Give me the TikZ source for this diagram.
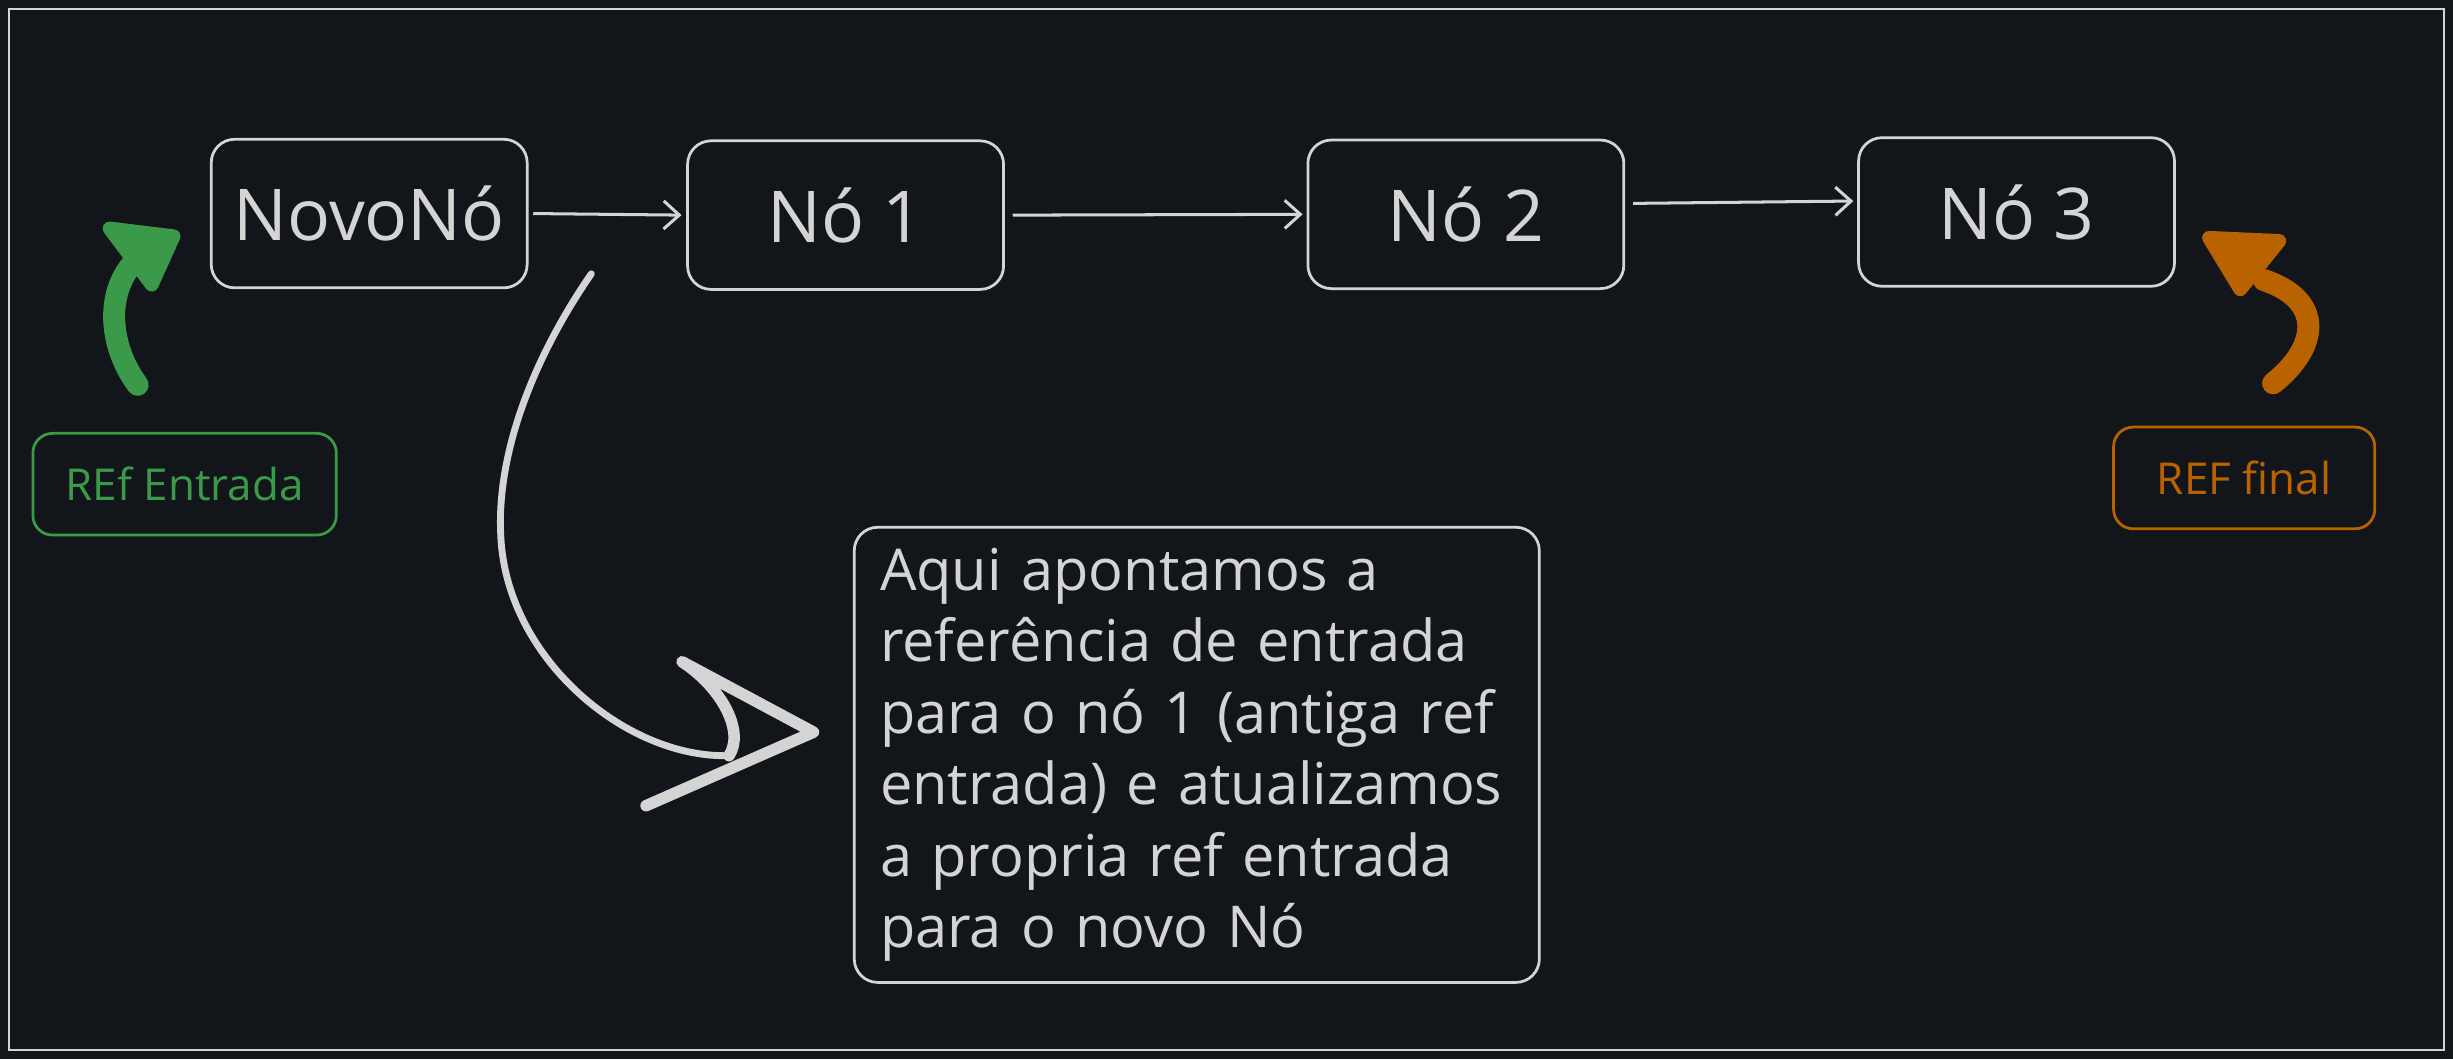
\documentclass[tikz,border=0pt]{standalone}
\usepackage{fontspec}
\setmainfont{Open Sans}
\usetikzlibrary{arrows.meta,positioning,calc}
\definecolor{fundo}{RGB}{18,21,25}
\definecolor{traco}{RGB}{212,212,212}
\definecolor{verde}{RGB}{58,154,74}
\definecolor{laranja}{RGB}{184,98,0}

\begin{document}
\begin{tikzpicture}[x=0.02cm,y=-0.02cm,
  no/.style={draw=traco,line width=1pt,rounded corners=0.3cm,minimum width=4.04cm,minimum height=1.9cm,text=traco,font=\fontsize{26}{30}\selectfont},
  ref/.style={draw=#1,line width=1pt,rounded corners=0.25cm,minimum height=1.3cm,text=#1,font=\fontsize{16}{19}\selectfont},
  link/.style={draw=traco,line width=1.1pt,-{Straight Barb[length=2mm,width=3.6mm]}},
  seta/.style={line width=8pt,line cap=round,line join=round}]
\fill[fundo] (0,0) rectangle (1568,677);
\draw[traco,line width=0.8pt] (6,6) rectangle (1562,671);
% lista
\node[no] (novo) at (236,136.5) {NovoNó};
\node[no] (no1) at (540.5,137.5) {Nó 1};
\node[no] (no2) at (937,137) {Nó 2};
\node[no] (no3) at (1289,135.5) {Nó 3};
\draw[link] ([xshift=0.06cm]novo.east) -- ([xshift=-0.06cm]no1.west);
\draw[link] ([xshift=0.1cm]no1.east) -- ([xshift=-0.05cm]no2.west);
\draw[link] ([xshift=0.1cm,yshift=0.14cm]no2.east) -- ([xshift=-0.05cm,yshift=0.14cm]no3.west);
% referencias
\node[ref=verde,minimum width=3.88cm] (refE) at (118,309.5) {REf Entrada};
\node[ref=laranja,minimum width=3.34cm] (refF) at (1434.5,305.5) {REF final};
\coordinate (eIni) at (88,246);
\coordinate (eFim) at (88,165);
\draw[seta,verde] (eIni) .. controls (70,222) and (66,186) .. (eFim);
\filldraw[verde,line width=5pt,line join=round] (70,146) -- (111,151) -- (97,182) -- cycle;
\coordinate (fIni) at (1453,245);
\coordinate (fFim) at (1447,179);
\draw[seta,laranja] (fIni) .. controls (1482,222) and (1486,192) .. (fFim);
\filldraw[laranja,line width=5pt,line join=round] (1412,152) -- (1457,154) -- (1432,185) -- cycle;
% nota
\node[draw=traco,line width=1pt,rounded corners=0.3cm,minimum width=8.76cm,minimum height=5.82cm,
  text width=8.1cm,align=left,text=traco,font=\fontsize{21}{26}\selectfont] (nota) at (765,482.5)
  {Aqui apontamos a\\referência de entrada\\para o nó 1 (antiga ref\\entrada) e atualizamos\\a propria ref entrada\\para o novo Nó};
\coordinate (cIni) at (378,175);
\coordinate (cFim) at (466,483);
\draw[traco,line width=2.5pt,line cap=round] (cIni) .. controls (340,230) and (318,290) .. (320,340)
  .. controls (322,420) and (400,485) .. (cFim);
\draw[traco,line width=4.2pt,line cap=round,line join=round] (cFim) .. controls (476,468) and (462,440) .. (436,423)
  -- (520,468) -- (413,515);
\end{tikzpicture}
\end{document}
